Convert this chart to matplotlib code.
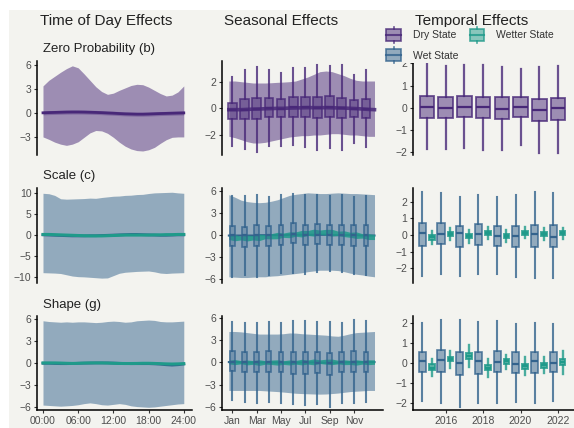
import matplotlib
matplotlib.use('Agg')
import matplotlib.pyplot as plt
from matplotlib.patches import Rectangle, Patch
from matplotlib.lines import Line2D
from matplotlib.legend_handler import HandlerBase
from matplotlib.colors import to_rgba

plt.rcParams['font.family'] = ['Liberation Sans', 'DejaVu Sans']

BG = '#f3f3ef'
PURPLE = '#482878'
BLUE = '#33638D'
TEAL = '#1F9A8A'

# ---------------- data ----------------
hours = [0, 1, 2, 3, 4, 5, 6, 7, 8, 9, 10, 11, 12, 13, 14, 15, 16, 17, 18, 19, 20, 21, 22, 23, 24]
hour_ticks = [0, 6, 12, 18, 24]
hour_labels = ['00:00', '06:00', '12:00', '18:00', '24:00']

zp_upper = [3.4, 4.1, 4.6, 5.1, 5.55, 5.9, 5.65, 4.9, 4.1, 3.3, 2.7, 2.35, 2.5, 2.85, 3.15, 3.45, 3.6, 3.55, 3.25, 2.85, 2.45, 2.15, 2.25, 2.65, 3.4]
zp_lower = [-2.95, -3.25, -3.6, -3.85, -4.0, -3.85, -3.55, -3.0, -2.45, -2.15, -2.2, -2.5, -3.0, -3.6, -4.1, -4.45, -4.65, -4.7, -4.55, -4.25, -3.75, -3.3, -3.0, -2.95, -2.95]
zp_mean = [0.05, 0.08, 0.1, 0.12, 0.14, 0.15, 0.15, 0.14, 0.12, 0.1, 0.07, 0.03, 0.0, -0.04, -0.08, -0.1, -0.12, -0.12, -0.1, -0.07, -0.04, -0.02, 0.0, 0.02, 0.04]

sc_upper = [10.0, 9.9, 9.5, 8.7, 8.6, 8.65, 8.7, 8.75, 8.85, 8.8, 9.0, 9.15, 9.3, 9.35, 9.5, 9.55, 9.7, 9.75, 9.95, 10.1, 10.15, 10.2, 10.25, 10.1, 10.0]
sc_lower = [-8.9, -8.95, -9.0, -9.1, -9.4, -9.7, -9.85, -9.9, -10.0, -10.1, -10.2, -10.15, -9.6, -9.05, -8.8, -8.7, -8.6, -8.55, -8.5, -8.7, -9.0, -9.1, -9.0, -8.95, -8.9]
sc_teal = [0.2, 0.2, 0.15, 0.1, 0.05, 0.0, -0.05, -0.1, -0.15, -0.15, -0.15, -0.1, -0.05, 0.0, 0.05, 0.05, 0.05, 0.05, 0.05, 0.1, 0.1, 0.15, 0.15, 0.2, 0.2]
sc_blue = [0.1, 0.05, 0.0, -0.05, -0.1, -0.15, -0.15, -0.15, -0.1, -0.1, -0.05, 0.0, 0.05, 0.1, 0.15, 0.2, 0.2, 0.15, 0.1, 0.05, 0.0, 0.0, 0.05, 0.1, 0.1]

sh_upper = [5.8, 5.7, 5.65, 5.6, 5.65, 5.6, 5.65, 5.65, 5.6, 5.55, 5.6, 5.7, 5.75, 5.7, 5.6, 5.65, 5.8, 5.85, 5.9, 5.85, 5.7, 5.65, 5.65, 5.7, 5.75]
sh_lower = [-5.7, -5.75, -5.8, -5.85, -5.8, -5.75, -5.65, -5.5, -5.4, -5.5, -5.65, -5.7, -5.6, -5.5, -5.6, -5.8, -5.9, -5.95, -6.0, -5.95, -5.85, -5.75, -5.65, -5.55, -5.5]
sh_teal = [0.05, 0.05, 0.05, 0.03, 0.0, -0.02, 0.0, 0.03, 0.05, 0.05, 0.05, 0.03, 0.0, -0.02, -0.03, -0.03, -0.02, 0.0, 0.0, -0.02, -0.05, -0.08, -0.1, -0.08, -0.05]
sh_blue = [0.0, 0.0, -0.03, -0.05, -0.05, -0.03, 0.0, 0.02, 0.03, 0.05, 0.05, 0.05, 0.03, 0.0, -0.03, -0.05, -0.05, -0.05, -0.05, -0.08, -0.12, -0.2, -0.25, -0.2, -0.1]

season_x = [0.7, 1.2, 1.7, 2.2, 2.7, 3.2, 3.7, 4.2, 4.7, 5.2, 5.7, 6.2, 6.7, 7.2, 7.7, 8.2, 8.7, 9.2, 9.7, 10.2, 10.7, 11.2, 11.7, 12.2, 12.7]
months = [1, 2, 3, 4, 5, 6, 7, 8, 9, 10, 11, 12]
month_ticks = [1, 3, 5, 7, 9, 11]
month_labels = ['Jan', 'Mar', 'May', 'Jul', 'Sep', 'Nov']

s1_upper = [2.05, 2.05, 2.0, 1.95, 1.9, 1.9, 1.9, 1.92, 1.95, 1.97, 2.0, 2.05, 2.2, 2.35, 2.55, 2.75, 2.8, 2.75, 2.6, 2.45, 2.25, 2.1, 2.05, 2.05, 2.05]
s1_lower = [-2.1, -2.2, -2.35, -2.5, -2.6, -2.6, -2.55, -2.45, -2.35, -2.25, -2.15, -2.1, -2.05, -2.05, -2.0, -2.0, -1.95, -1.9, -1.9, -1.95, -2.0, -2.0, -2.05, -2.1, -2.1]
s1_mean = [-0.1, -0.1, -0.1, -0.08, -0.06, -0.05, -0.03, -0.02, 0.0, 0.0, 0.02, 0.03, 0.04, 0.05, 0.05, 0.05, 0.05, 0.04, 0.03, 0.02, 0.0, -0.02, -0.05, -0.08, -0.1]
s1_q1 = [-0.83, -0.83, -0.83, -0.68, -0.68, -0.63, -0.63, -0.75, -0.63, -0.75, -0.68, -0.75]
s1_q3 = [0.43, 0.68, 0.75, 0.75, 0.68, 0.88, 0.88, 0.88, 0.93, 0.8, 0.63, 0.7]
s1_med = [-0.15, -0.1, -0.05, 0.0, -0.05, 0.1, 0.1, 0.05, 0.1, 0.05, -0.05, -0.05]
s1_lo = [-2.8, -3.05, -3.25, -2.8, -2.8, -2.75, -2.88, -3.13, -2.95, -3.13, -2.63, -2.93]
s1_hi = [2.33, 2.88, 3.13, 2.88, 2.68, 3.0, 3.0, 3.25, 3.18, 3.25, 2.5, 2.88]

s2_upper = [5.55, 5.2, 4.8, 4.6, 4.5, 4.45, 4.5, 4.65, 4.85, 5.15, 5.45, 5.6, 5.7, 5.8, 5.75, 5.7, 5.7, 5.75, 5.8, 5.75, 5.7, 5.7, 5.65, 5.6, 5.55]
s2_lower = [-5.7, -5.75, -5.8, -5.8, -5.75, -5.7, -5.7, -5.6, -5.55, -5.45, -5.35, -5.25, -5.15, -5.0, -4.9, -4.8, -4.8, -4.8, -4.85, -5.0, -5.2, -5.35, -5.45, -5.6, -5.7]
s2_teal_c = [-0.3, -0.35, -0.4, -0.4, -0.35, -0.3, -0.2, -0.15, -0.05, 0.0, 0.05, 0.15, 0.2, 0.3, 0.35, 0.4, 0.4, 0.35, 0.25, 0.2, 0.05, 0.0, -0.1, -0.2, -0.25]
s2_teal_h = [0.3, 0.42, 0.25, 0.4, 0.3, 0.45, 0.28, 0.36, 0.44, 0.3, 0.4, 0.3, 0.45, 0.34, 0.48, 0.3, 0.4, 0.45, 0.3, 0.4, 0.35, 0.45, 0.3, 0.4, 0.35]
s2_blue = [-0.05, -0.05, -0.05, -0.05, -0.05, 0.0, 0.0, 0.0, 0.0, 0.0, 0.05, 0.05, 0.05, 0.05, 0.05, 0.05, 0.05, 0.0, 0.0, 0.0, 0.0, 0.0, -0.05, -0.05, -0.05]
s2_q1 = [-1.47, -1.56, -1.47, -1.47, -1.33, -1.1, -1.33, -1.24, -1.33, -1.33, -1.47, -1.47]
s2_q3 = [1.19, 1.06, 1.33, 1.28, 1.42, 1.65, 1.42, 1.51, 1.42, 1.42, 1.33, 1.33]
s2_med = [0.0, 0.0, 0.0, 0.0, 0.05, 0.1, 0.05, 0.05, 0.0, 0.0, 0.0, 0.0]
s2_lo = [-5.69, -5.46, -5.69, -5.46, -5.23, -5.14, -5.37, -5.0, -4.91, -5.09, -5.32, -5.46]
s2_hi = [5.41, 5.32, 5.55, 5.18, 5.46, 5.69, 5.46, 5.55, 5.41, 5.55, 5.18, 5.32]

s3_upper = [4.2, 4.2, 4.15, 4.05, 3.95, 3.85, 3.85, 3.85, 3.85, 3.9, 4.0, 3.98, 3.9, 3.85, 3.8, 3.75, 3.7, 3.6, 3.55, 3.7, 3.9, 4.05, 4.1, 4.15, 4.2]
s3_lower = [-3.8, -3.8, -3.8, -3.8, -3.8, -3.8, -3.85, -3.9, -3.95, -4.02, -4.1, -4.18, -4.22, -4.25, -4.28, -4.3, -4.28, -4.22, -4.15, -4.05, -3.95, -3.9, -3.85, -3.8, -3.8]
s3_teal_c = [0.05, 0.05, 0.03, 0.0, 0.0, -0.02, 0.0, 0.02, 0.0, -0.02, 0.0, 0.02, 0.05, 0.05, 0.08, 0.1, 0.1, 0.08, 0.05, 0.03, 0.0, 0.0, 0.02, 0.03, 0.05]
s3_teal_h = [0.25, 0.35, 0.22, 0.33, 0.25, 0.38, 0.24, 0.3, 0.36, 0.25, 0.34, 0.25, 0.38, 0.28, 0.4, 0.25, 0.34, 0.38, 0.25, 0.33, 0.28, 0.36, 0.25, 0.33, 0.3]
s3_blue = [0.05, 0.05, 0.03, 0.0, 0.0, 0.0, 0.0, 0.0, 0.0, -0.02, -0.02, -0.02, 0.0, 0.0, 0.0, -0.03, -0.05, -0.05, -0.03, 0.0, 0.03, 0.05, 0.05, 0.05, 0.05]
s3_q1 = [-1.14, -1.27, -1.36, -1.27, -1.36, -1.5, -1.5, -1.45, -1.68, -1.36, -1.27, -1.27]
s3_q3 = [1.59, 1.36, 1.36, 1.5, 1.36, 1.36, 1.45, 1.36, 1.27, 1.36, 1.59, 1.45]
s3_med = [0.1, 0.05, 0.0, 0.05, 0.0, 0.0, 0.0, -0.05, -0.1, 0.0, 0.1, 0.05]
s3_lo = [-5.14, -5.32, -5.45, -5.36, -5.45, -5.68, -5.82, -5.68, -6.0, -5.45, -5.45, -5.32]
s3_hi = [5.45, 5.36, 5.36, 5.55, 5.36, 5.68, 5.68, 5.55, 5.55, 5.36, 5.77, 5.59]

years = [2015, 2016, 2017, 2018, 2019, 2020, 2021, 2022]
year_ticks = [2016, 2018, 2020, 2022]
year_labels = ['2016', '2018', '2020', '2022']

t1_q1 = [-0.45, -0.45, -0.42, -0.46, -0.49, -0.42, -0.6, -0.54]
t1_q3 = [0.55, 0.48, 0.54, 0.51, 0.48, 0.48, 0.38, 0.46]
t1_med = [0.05, 0.0, 0.02, 0.02, -0.03, 0.02, -0.11, 0.0]
t1_lo = [-1.83, -1.83, -1.8, -1.89, -1.89, -1.69, -2.03, -2.03]
t1_hi = [1.97, 1.89, 1.94, 1.94, 1.86, 1.77, 1.82, 1.89]

t2w_q1 = [-0.64, -0.54, -0.7, -0.6, -0.64, -0.7, -0.7, -0.7]
t2w_q3 = [0.7, 0.74, 0.56, 0.66, 0.56, 0.56, 0.6, 0.6]
t2w_med = [0.1, 0.06, 0.1, 0.06, -0.06, -0.04, 0.06, -0.1]
t2w_lo = [-2.46, -2.34, -2.46, -2.34, -2.34, -2.5, -2.6, -2.56]
t2w_hi = [2.56, 2.5, 2.26, 2.4, 2.3, 2.4, 2.56, 2.5]
t2t_q1 = [-0.28, -0.06, -0.2, 0.02, -0.18, 0.02, -0.06, -0.02]
t2t_q3 = [-0.02, 0.18, 0.06, 0.26, 0.06, 0.26, 0.18, 0.22]
t2t_med = [-0.14, 0.06, -0.06, 0.14, -0.06, 0.14, 0.06, 0.1]
t2t_lo = [-0.55, -0.3, -0.45, -0.22, -0.42, -0.2, -0.28, -0.25]
t2t_hi = [0.25, 0.42, 0.3, 0.5, 0.3, 0.48, 0.4, 0.45]

t3w_q1 = [-0.46, -0.46, -0.58, -0.54, -0.46, -0.51, -0.51, -0.46]
t3w_q3 = [0.56, 0.64, 0.56, 0.56, 0.61, 0.53, 0.56, 0.53]
t3w_med = [0.1, 0.14, 0.0, 0.08, 0.05, -0.07, 0.08, 0.02]
t3w_lo = [-1.9, -2.03, -2.2, -2.03, -2.03, -1.95, -2.0, -1.9]
t3w_hi = [2.0, 2.17, 2.17, 2.08, 2.13, 1.97, 2.03, 1.95]
t3t_q1 = [-0.37, 0.08, 0.22, -0.37, -0.03, -0.32, -0.24, -0.12]
t3t_q3 = [-0.07, 0.3, 0.5, -0.12, 0.19, -0.07, 0.0, 0.22]
t3t_med = [-0.24, 0.19, 0.36, -0.24, 0.08, -0.17, -0.12, 0.05]
t3t_lo = [-0.68, -0.24, -0.2, -0.71, -0.29, -0.58, -0.51, -0.54]
t3t_hi = [0.22, 0.6, 0.9, 0.22, 0.42, 0.3, 0.3, 0.6]

# ---------------- helpers ----------------
W, H = 574, 428
fig = plt.figure(figsize=(W / 100, H / 100), dpi=100)
fig.patch.set_facecolor('white')
fig.add_artist(Rectangle((9 / W, 0), 1 - 9 / W, 1 - 10 / H, transform=fig.transFigure,
                         facecolor=BG, edgecolor='none', zorder=-10))


def add_ax(l, t, r, b):
    return fig.add_axes([l / W, 1 - b / H, (r - l) / W, (b - t) / H])


def style(ax, bottom=False):
    ax.set_facecolor('none')
    for s in ['top', 'right']:
        ax.spines[s].set_visible(False)
    ax.spines['left'].set_linewidth(1.1)
    ax.spines['left'].set_color('black')
    if bottom:
        ax.spines['bottom'].set_linewidth(1.1)
        ax.spines['bottom'].set_color('black')
    else:
        ax.spines['bottom'].set_visible(False)
        ax.set_xticks([])
    ax.tick_params(axis='both', length=2.5, width=0.8, color='#333333',
                   labelsize=7.5, labelcolor='#4d4d4d', pad=1.5)


def stats(q1, q3, med, lo, hi):
    return [dict(med=m, q1=a, q3=b, whislo=l, whishi=h) for a, b, m, l, h in zip(q1, q3, med, lo, hi)]


def boxes(ax, pos, st, color, width, face_alpha=0.5, lw=1.1, med_lw=1.6, zorder=3):
    ax.bxp(st, positions=pos, widths=width, patch_artist=True, showfliers=False,
           showcaps=False, manage_ticks=False, zorder=zorder,
           boxprops=dict(facecolor=to_rgba(color, face_alpha), edgecolor=to_rgba(color, 0.8), linewidth=lw),
           whiskerprops=dict(color=to_rgba(color, 0.8), linewidth=lw + 0.3),
           medianprops=dict(color=color, linewidth=med_lw))


cols = [(37, 192), (222, 383), (413, 574)]
rows = [(61, 155), (188, 283), (316, 410)]

# ---------------- column 1: time of day ----------------
ax = add_ax(cols[0][0], rows[0][0], cols[0][1], rows[0][1])
ax.fill_between(hours, zp_lower, zp_upper, color=PURPLE, alpha=0.5, lw=0)
ax.fill_between(hours, [m - 0.25 for m in zp_mean], [m + 0.25 for m in zp_mean], color=PURPLE, alpha=0.35, lw=0)
ax.plot(hours, zp_mean, color=PURPLE, lw=2.0)
ax.set_xlim(-1.02, 25.4); ax.set_ylim(-5.2, 6.5); ax.set_yticks([-3, 0, 3, 6])
style(ax)

ax = add_ax(cols[0][0], rows[1][0], cols[0][1], rows[1][1])
ax.fill_between(hours, sc_lower, sc_upper, color=BLUE, alpha=0.5, lw=0)
ax.plot(hours, sc_blue, color=BLUE, lw=2.0)
ax.plot(hours, sc_teal, color=TEAL, lw=2.2)
ax.set_xlim(-1.02, 25.4); ax.set_ylim(-11.36, 11.26); ax.set_yticks([-10, -5, 0, 5, 10])
style(ax)

ax = add_ax(cols[0][0], rows[2][0], cols[0][1], rows[2][1])
ax.fill_between(hours, sh_lower, sh_upper, color=BLUE, alpha=0.5, lw=0)
ax.plot(hours, sh_blue, color=BLUE, lw=2.0)
ax.plot(hours, sh_teal, color=TEAL, lw=2.2)
ax.set_xlim(-1.02, 25.4); ax.set_ylim(-6.37, 6.45); ax.set_yticks([-6, -3, 0, 3, 6])
style(ax, bottom=True)
ax.set_xticks(hour_ticks); ax.set_xticklabels(hour_labels)

# ---------------- column 2: seasonal ----------------
ax = add_ax(cols[1][0], rows[0][0], cols[1][1], rows[0][1])
ax.fill_between(season_x, s1_lower, s1_upper, color=PURPLE, alpha=0.5, lw=0, zorder=1)
boxes(ax, months, stats(s1_q1, s1_q3, s1_med, s1_lo, s1_hi), PURPLE, 0.72, face_alpha=0.45, lw=1.2)
ax.plot(season_x, s1_mean, color=PURPLE, lw=2.6, alpha=0.85, zorder=4)
ax.set_xlim(0.135, 13.4); ax.set_ylim(-3.5, 3.55); ax.set_yticks([-2, 0, 2])
style(ax)

ax = add_ax(cols[1][0], rows[1][0], cols[1][1], rows[1][1])
ax.fill_between(season_x, s2_lower, s2_upper, color=BLUE, alpha=0.5, lw=0, zorder=1)
ax.plot(season_x, s2_blue, color=BLUE, lw=1.5, zorder=2)
ax.fill_between(season_x, [c - h for c, h in zip(s2_teal_c, s2_teal_h)],
                [c + h for c, h in zip(s2_teal_c, s2_teal_h)], color=TEAL, alpha=0.85, lw=0, zorder=2)
boxes(ax, months, stats(s2_q1, s2_q3, s2_med, s2_lo, s2_hi), BLUE, 0.4, face_alpha=0.3, lw=1.2)
ax.set_xlim(0.135, 13.4); ax.set_ylim(-6.55, 6.46); ax.set_yticks([-6, -3, 0, 3, 6])
style(ax)

ax = add_ax(cols[1][0], rows[2][0], cols[1][1], rows[2][1])
ax.fill_between(season_x, s3_lower, s3_upper, color=BLUE, alpha=0.5, lw=0, zorder=1)
ax.plot(season_x, s3_blue, color=BLUE, lw=1.5, zorder=2)
ax.fill_between(season_x, [c - h for c, h in zip(s3_teal_c, s3_teal_h)],
                [c + h for c, h in zip(s3_teal_c, s3_teal_h)], color=TEAL, alpha=0.85, lw=0, zorder=2)
boxes(ax, months, stats(s3_q1, s3_q3, s3_med, s3_lo, s3_hi), BLUE, 0.4, face_alpha=0.3, lw=1.2)
ax.set_xlim(0.135, 13.4); ax.set_ylim(-6.45, 6.3); ax.set_yticks([-6, -3, 0, 3, 6])
style(ax, bottom=True)
ax.set_xticks(month_ticks); ax.set_xticklabels(month_labels)

# ---------------- column 3: temporal ----------------
wet_pos = [y - 0.25 for y in years]
wetter_pos = [y + 0.25 for y in years]

ax = add_ax(cols[2][0], rows[0][0], cols[2][1], rows[0][1])
boxes(ax, years, stats(t1_q1, t1_q3, t1_med, t1_lo, t1_hi), PURPLE, 0.78, face_alpha=0.5, lw=1.3)
ax.set_xlim(2014.25, 2022.86); ax.set_ylim(-2.12, 2.11); ax.set_yticks([-2, -1, 0, 1, 2])
style(ax)

ax = add_ax(cols[2][0], rows[1][0], cols[2][1], rows[1][1])
boxes(ax, wet_pos, stats(t2w_q1, t2w_q3, t2w_med, t2w_lo, t2w_hi), BLUE, 0.38, face_alpha=0.5, lw=1.2)
boxes(ax, wetter_pos, stats(t2t_q1, t2t_q3, t2t_med, t2t_lo, t2t_hi), TEAL, 0.3, face_alpha=0.7, lw=1.4)
ax.set_xlim(2014.25, 2022.86); ax.set_ylim(-2.88, 2.82); ax.set_yticks([-2, -1, 0, 1, 2])
style(ax)

ax = add_ax(cols[2][0], rows[2][0], cols[2][1], rows[2][1])
boxes(ax, wet_pos, stats(t3w_q1, t3w_q3, t3w_med, t3w_lo, t3w_hi), BLUE, 0.38, face_alpha=0.5, lw=1.2)
boxes(ax, wetter_pos, stats(t3t_q1, t3t_q3, t3t_med, t3t_lo, t3t_hi), TEAL, 0.3, face_alpha=0.7, lw=1.4)
ax.set_xlim(2014.25, 2022.86); ax.set_ylim(-2.37, 2.37); ax.set_yticks([-2, -1, 0, 1, 2])
style(ax, bottom=True)
ax.set_xticks(year_ticks); ax.set_xticklabels(year_labels)

# ---------------- titles ----------------
for x, t in [(106, 'Time of Day Effects'), (281, 'Seasonal Effects'), (472, 'Temporal Effects')]:
    fig.text(x / W, 1 - 21 / H, t, ha='center', va='center', fontsize=11, color='#222222')
for y, t in [(49, 'Zero Probability (b)'), (176, 'Scale (c)'), (305, 'Shape (g)')]:
    fig.text(43 / W, 1 - y / H, t, ha='left', va='center', fontsize=9.5, color='#222222')


# ---------------- legend ----------------
class BoxGlyph(HandlerBase):
    def create_artists(self, legend, orig, xd, yd, width, height, fontsize, trans):
        face = orig.get_facecolor()
        edge = orig.get_edgecolor()
        x0, y0 = -xd, -yd
        bw, bh = width * 0.95, height * 0.74
        bx, by = x0 + (width - bw) / 2, y0 + (height - bh) / 2
        cx = x0 + width / 2
        arts = [Rectangle((bx, by), bw, bh, facecolor=face, edgecolor=edge, lw=1.2, transform=trans),
                Line2D([cx, cx], [y0, by], color=edge, lw=1.2, transform=trans),
                Line2D([cx, cx], [by + bh, y0 + height], color=edge, lw=1.2, transform=trans),
                Line2D([bx, bx + bw], [y0 + height / 2] * 2, color=edge, lw=1.5, transform=trans)]
        return arts


handles = [Patch(facecolor=to_rgba(PURPLE, 0.5), edgecolor=to_rgba(PURPLE, 0.8)),
           Patch(facecolor=to_rgba(BLUE, 0.5), edgecolor=to_rgba(BLUE, 0.8)),
           Patch(facecolor=to_rgba(TEAL, 0.5), edgecolor=to_rgba(TEAL, 0.8))]
labels = ['Dry State', 'Wet State', 'Wetter State']
leg = fig.legend(handles, labels, loc='upper left', bbox_to_anchor=(386 / W, 1 - 27 / H), ncol=2,
                 frameon=True, facecolor=BG, edgecolor='none', framealpha=1, fancybox=False,
                 fontsize=7.5, handlelength=1.45, handleheight=2.0, handletextpad=1.1,
                 columnspacing=1.1, labelspacing=0.39, borderpad=0.0, borderaxespad=0,
                 handler_map={Patch: BoxGlyph()})
for t in leg.get_texts():
    t.set_color('#333333')

fig.savefig('out.png', dpi=100, facecolor=fig.get_facecolor())
